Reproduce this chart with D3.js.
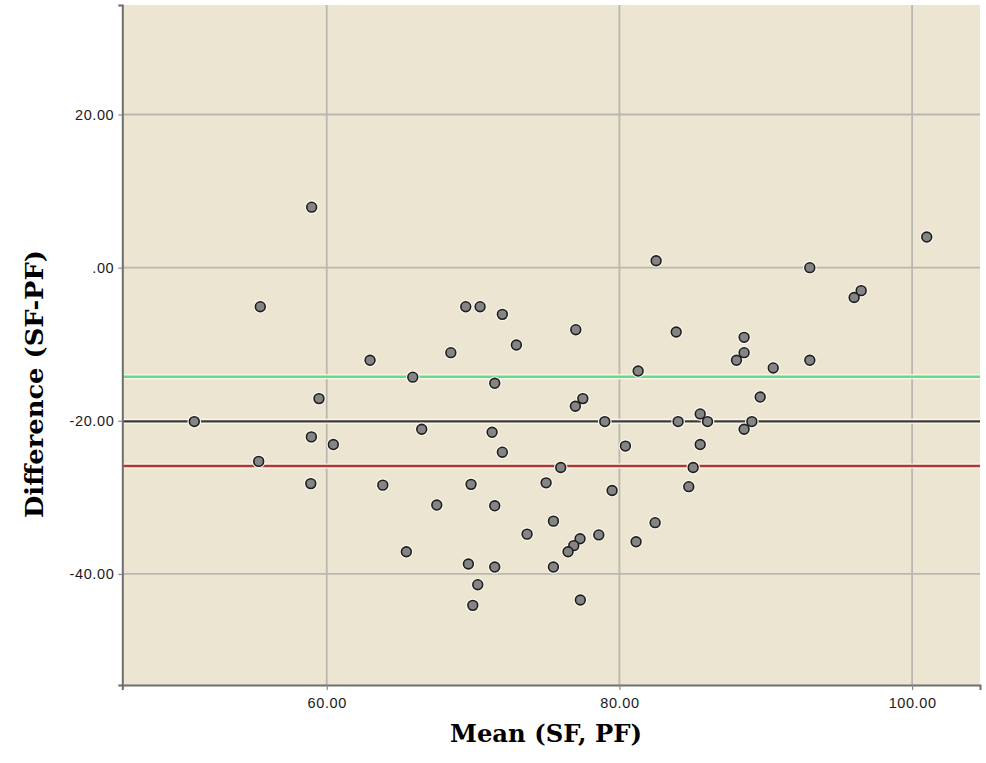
<!DOCTYPE html>
<html>
<head>
<meta charset="utf-8">
<script src="https://cdn.jsdelivr.net/npm/d3@7"></script>
<style>
  body { margin: 0; background: #fff; }
  svg { display: block; }
</style>
</head>
<body>
<div id="chart"></div>
<script>
const WIDTH = 986
const HEIGHT = 763

// mean of SF and PF for each subject
const means = [
    50.95, 55.46, 55.35, 58.97, 58.95, 58.91, 59.47, 60.45, 62.96, 65.88,
    63.83, 66.49, 65.44, 67.52, 68.48, 69.50, 70.48, 72.00, 72.96, 71.48,
    71.30, 72.00, 69.86, 71.48, 73.69, 69.68, 71.48, 70.32, 69.98, 77.02,
    77.50, 76.99, 79.00, 75.99, 74.99, 79.50, 75.49, 75.49, 78.59, 77.31,
    76.88, 76.49, 77.33, 80.41, 81.28, 81.14, 82.44, 82.51, 83.88, 84.01,
    85.52, 86.02, 85.52, 85.04, 84.74, 88.52, 88.52, 88.00, 90.51, 89.62,
    89.05, 88.52, 93.01, 93.01, 96.04, 96.52, 101.0
]

// difference SF - PF for each subject
const diffs = [
    -20.1, -5.1, -25.3, 7.9, -22.1, -28.2, -17.1, -23.1, -12.1, -14.3,
    -28.4, -21.1, -37.1, -31.0, -11.1, -5.1, -5.1, -6.1, -10.1, -15.1,
    -21.5, -24.1, -28.3, -31.1, -34.8, -38.7, -39.1, -41.4, -44.1, -8.1,
    -17.1, -18.1, -20.1, -26.1, -28.1, -29.1, -33.1, -39.1, -34.9, -35.4,
    -36.3, -37.1, -43.4, -23.3, -13.5, -35.8, -33.3, 0.9, -8.4, -20.1,
    -19.1, -20.1, -23.1, -26.1, -28.6, -9.1, -11.1, -12.1, -13.1, -16.9,
    -20.1, -21.1, 0.0, -12.1, -3.9, -3.0, 4.0
]

const refValues = [-14.24, -20.07, -25.9]
const refColors = ["#62dc86", "#3a3a3a", "#a83a32"]

const xTicks = [60, 80, 100]
const yTicks = [-40, -20, 0, 20]

const plot = { left: 122.3, right: 980, top: 5, bottom: 685 }

const x = d3.scaleLinear()
    .domain([46.03, 104.64])
    .range([plot.left, plot.right])

const y = d3.scaleLinear()
    .domain([-54.5, 34.3])
    .range([plot.bottom, plot.top])

const fmt = d => d === 0 ? ".00" : d.toFixed(2)

const svg = d3.select("#chart").append("svg")
    .attr("width", WIDTH)
    .attr("height", HEIGHT)

svg.append("rect")
    .attr("x", plot.left)
    .attr("y", plot.top)
    .attr("width", plot.right - plot.left)
    .attr("height", plot.bottom - plot.top)
    .attr("fill", "#ece5d1")

// grid lines
svg.append("g")
    .selectAll("line")
    .data(xTicks)
    .join("line")
    .attr("x1", d => x(d))
    .attr("x2", d => x(d))
    .attr("y1", plot.top)
    .attr("y2", plot.bottom)
    .attr("stroke", "#bab7b0")
    .attr("stroke-width", 1.8)

svg.append("g")
    .selectAll("line")
    .data(yTicks)
    .join("line")
    .attr("x1", plot.left)
    .attr("x2", plot.right)
    .attr("y1", d => y(d))
    .attr("y2", d => y(d))
    .attr("stroke", "#bab7b0")
    .attr("stroke-width", 1.8)

// reference lines with a light halo
const refs = svg.append("g")
refs.selectAll(".halo")
    .data(refValues)
    .join("line")
    .attr("class", "halo")
    .attr("x1", plot.left)
    .attr("x2", plot.right)
    .attr("y1", d => y(d))
    .attr("y2", d => y(d))
    .attr("stroke", "#fbf7ec")
    .attr("stroke-width", 5)
refs.selectAll(".ref")
    .data(refValues)
    .join("line")
    .attr("class", "ref")
    .attr("x1", plot.left)
    .attr("x2", plot.right)
    .attr("y1", d => y(d))
    .attr("y2", d => y(d))
    .attr("stroke", (d, i) => refColors[i])
    .attr("stroke-width", 2.4)

// points
const pts = means.map((m, i) => ({ m: m, d: diffs[i] }))
const dots = svg.append("g")
dots.selectAll(".dot-halo")
    .data(pts)
    .join("circle")
    .attr("class", "dot-halo")
    .attr("cx", d => x(d.m))
    .attr("cy", d => y(d.d))
    .attr("r", 6.8)
    .attr("fill", "#fbf7ec")
dots.selectAll(".dot")
    .data(pts)
    .join("circle")
    .attr("class", "dot")
    .attr("cx", d => x(d.m))
    .attr("cy", d => y(d.d))
    .attr("r", 4.9)
    .attr("fill", "#858585")
    .attr("stroke", "#1e1e1e")
    .attr("stroke-width", 1.6)

// axes
const xAxis = svg.append("g")
    .attr("transform", `translate(0,${plot.bottom})`)
    .call(d3.axisBottom(x).tickValues(xTicks).tickFormat(fmt).tickSize(5).tickPadding(8))
const yAxis = svg.append("g")
    .attr("transform", `translate(${plot.left},0)`)
    .call(d3.axisLeft(y).tickValues(yTicks).tickFormat(fmt).tickSize(4).tickPadding(4))

for (const ax of [xAxis, yAxis]) {
    ax.select(".domain").attr("stroke", "#6e6e6e").attr("stroke-width", 2)
    ax.selectAll(".tick line").attr("stroke", "#8a8a8a").attr("stroke-width", 1.2)
    ax.selectAll(".tick text")
        .attr("fill", "#1a1a1a")
        .attr("font-family", "Liberation Sans, Arial, sans-serif")
        .attr("font-size", 14.5)
        .attr("letter-spacing", 0.6)
}

// axis titles
svg.append("text")
    .attr("x", 546)
    .attr("y", 742)
    .attr("text-anchor", "middle")
    .attr("font-family", "DejaVu Serif, serif")
    .attr("font-weight", "bold")
    .attr("font-size", 25)
    .attr("textLength", 192)
    .attr("lengthAdjust", "spacingAndGlyphs")
    .attr("fill", "#000")
    .text("Mean (SF, PF)")

svg.append("text")
    .attr("transform", "translate(43,384) rotate(-90)")
    .attr("text-anchor", "middle")
    .attr("font-family", "DejaVu Serif, serif")
    .attr("font-weight", "bold")
    .attr("font-size", 25)
    .attr("textLength", 268)
    .attr("lengthAdjust", "spacingAndGlyphs")
    .attr("fill", "#000")
    .text("Difference (SF-PF)")
</script>
</body>
</html>
